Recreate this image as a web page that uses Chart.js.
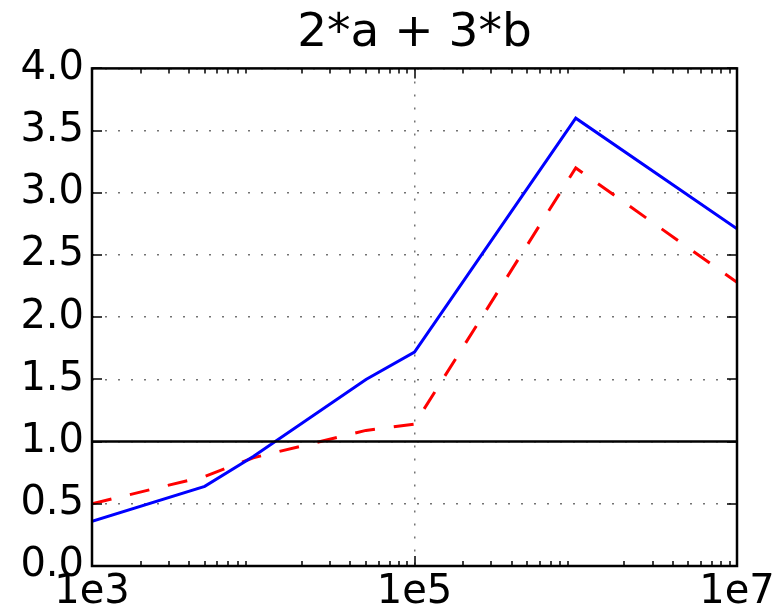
<!DOCTYPE html>
<html><head><meta charset="utf-8">
<script src="https://cdn.jsdelivr.net/npm/chart.js@4/dist/chart.umd.min.js"></script>
<style>html,body{margin:0;padding:0;background:#fff;overflow:hidden}</style>
</head><body>
<canvas id="c" width="781" height="614" style="display:block;width:781px;height:614px"></canvas>
<script>
const titleText = '2*a + 3*b';
const xValues = [1e3, 5e3, 1e4, 5e4, 1e5, 1e6, 1e7];
const blueValues = [0.36, 0.64, 0.88, 1.50, 1.72, 3.60, 2.71];
const redValues = [0.50, 0.72, 0.87, 1.09, 1.14, 3.20, 2.28];
const refLineX = [1e3, 1e7];
const refLineY = [1.0, 1.0];
const xTickValues = [1e3, 1e5, 1e7];
const xTickLabels = ['1e3', '1e5', '1e7'];
const xMinorDecades = [1e3, 1e4, 1e5, 1e6];
const xMinorSubs = [2, 3, 4, 5, 6, 7, 8, 9];
const yTickValues = [0, 0.5, 1.0, 1.5, 2.0, 2.5, 3.0, 3.5, 4.0];
const yTickLabels = ['0.0', '0.5', '1.0', '1.5', '2.0', '2.5', '3.0', '3.5', '4.0'];

const FONT = 'DejaVu Sans';
const toPts = (xs, ys) => xs.map((x, i) => ({x: x, y: ys[i]}));

const frameTicks = {
  id: 'frameTicks',
  afterDatasetsDraw(chart) {
    const {ctx, chartArea: a, scales} = chart;
    const x = scales.x, y = scales.y;
    ctx.save();
    ctx.strokeStyle = '#000';
    ctx.lineWidth = 1.5;
    ctx.beginPath();
    xTickValues.forEach(v => {
      const px = Math.round(x.getPixelForValue(v));
      ctx.moveTo(px, a.bottom); ctx.lineTo(px, a.bottom - 10);
      ctx.moveTo(px, a.top); ctx.lineTo(px, a.top + 10);
    });
    xMinorDecades.forEach(d => xMinorSubs.forEach(s => {
      const px = Math.round(x.getPixelForValue(d * s));
      ctx.moveTo(px, a.bottom); ctx.lineTo(px, a.bottom - 5);
      ctx.moveTo(px, a.top); ctx.lineTo(px, a.top + 5);
    }));
    yTickValues.forEach(v => {
      const py = Math.round(y.getPixelForValue(v));
      ctx.moveTo(a.left, py); ctx.lineTo(a.left + 10, py);
      ctx.moveTo(a.right, py); ctx.lineTo(a.right - 10, py);
    });
    ctx.stroke();
    ctx.lineWidth = 2.5;
    ctx.strokeRect(a.left, a.top, a.right - a.left, a.bottom - a.top);
    ctx.restore();
  }
};

new Chart(document.getElementById('c'), {
  type: 'line',
  data: {
    datasets: [
      {data: toPts(refLineX, refLineY), borderColor: '#000', borderWidth: 2.5, pointRadius: 0, tension: 0},
      {data: toPts(xValues, blueValues), borderColor: '#0000ff', borderWidth: 3, pointRadius: 0, tension: 0},
      {data: toPts(xValues, redValues), borderColor: '#ff0000', borderWidth: 3, borderDash: [20, 19], pointRadius: 0, tension: 0}
    ]
  },
  options: {
    responsive: false,
    animation: false,
    devicePixelRatio: 1,
    layout: {padding: {left: 0, right: 44, top: 0, bottom: 0}},
    plugins: {
      legend: {display: false},
      tooltip: {enabled: false},
      title: {
        display: true, text: titleText, fullSize: false, color: '#000',
        font: {family: FONT, size: 47, weight: 'normal'},
        padding: {top: 6, bottom: 6}
      }
    },
    scales: {
      x: {
        type: 'logarithmic', min: 1e3, max: 1e7,
        afterBuildTicks: s => { s.ticks = xTickValues.map(v => ({value: v})); },
        afterFit: s => { s.height = 48; s.paddingLeft = 0; s.paddingRight = 0; },
        ticks: {
          color: '#000', font: {family: FONT, size: 40}, padding: 3,
          maxRotation: 0, autoSkip: false,
          callback: (v, i) => xTickLabels[i]
        },
        grid: {color: 'rgba(0,0,0,0.55)', lineWidth: 1.5, drawTicks: false},
        border: {display: false, dash: [2, 11]}
      },
      y: {
        type: 'linear', min: 0, max: 4,
        afterBuildTicks: s => { s.ticks = yTickValues.map(v => ({value: v})); },
        afterFit: s => { s.width = 92; s.paddingTop = 0; s.paddingBottom = 0; },
        ticks: {
          color: '#000', font: {family: FONT, size: 40}, padding: 8,
          autoSkip: false,
          callback: (v, i) => yTickLabels[i]
        },
        grid: {color: 'rgba(0,0,0,0.55)', lineWidth: 1.5, drawTicks: false},
        border: {display: false, dash: [2, 11]}
      }
    }
  },
  plugins: [frameTicks]
});
</script>
</body></html>
